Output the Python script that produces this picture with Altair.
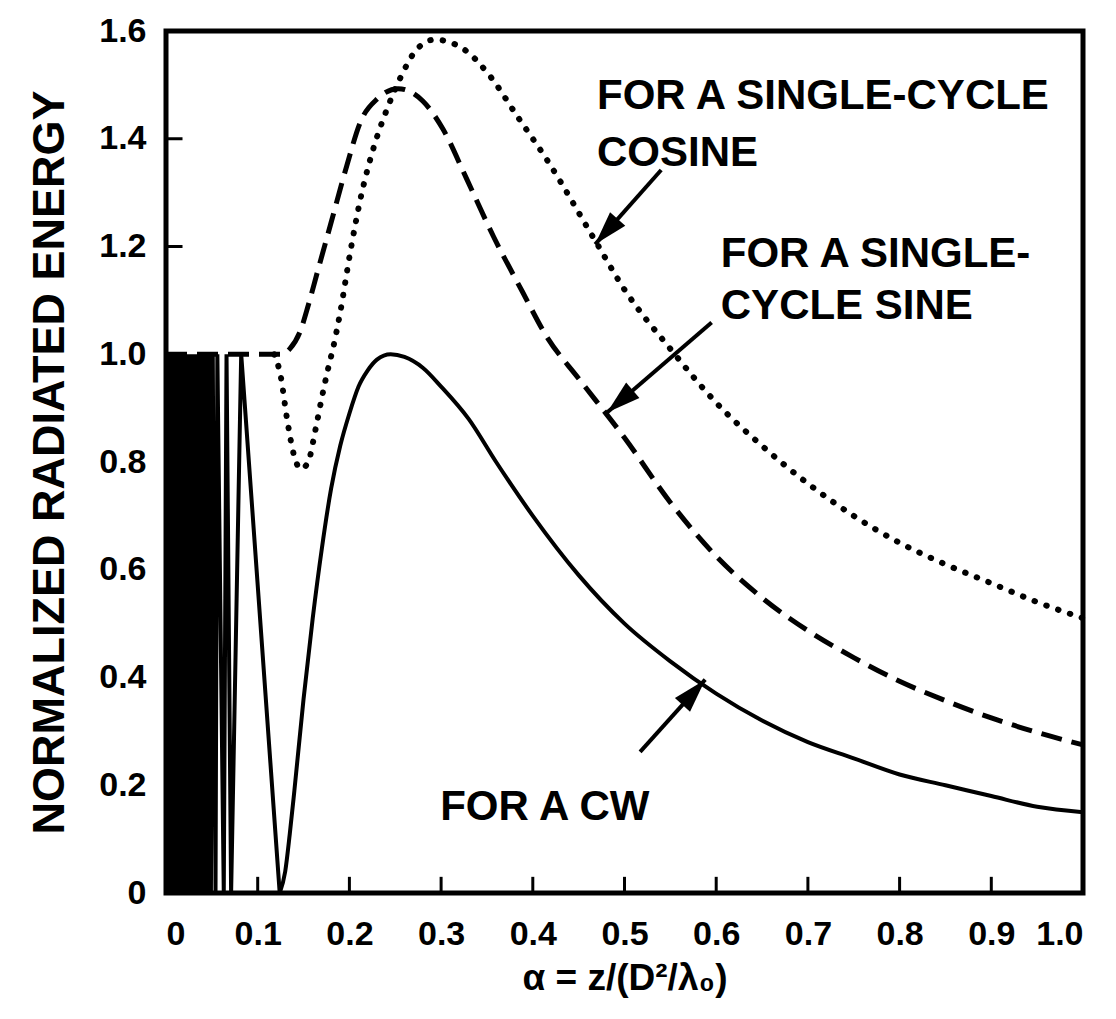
import math
import altair as alt
import pandas as pd

# ---------------- data ----------------
# CW (solid): fast oscillation region near alpha = 0
osc_x = [0.000, 0.001, 0.003, 0.004, 0.006, 0.008, 0.010, 0.011, 0.013, 0.015,
         0.016, 0.018, 0.020, 0.021, 0.023, 0.025, 0.026, 0.028, 0.030, 0.031,
         0.033, 0.035, 0.037, 0.039, 0.041, 0.043, 0.045, 0.047, 0.049, 0.051,
         0.054, 0.056, 0.063, 0.066, 0.071, 0.082, 0.124]
osc_y = [0, 1, 0, 1, 0, 1, 0, 1, 0, 1,
         0, 1, 0, 1, 0, 1, 0, 1, 0, 1,
         0, 1, 0, 1, 0, 1, 0, 1, 0, 1,
         0, 1, 0, 1, 0, 1, 0]
cw_x = [0.124, 0.130, 0.135, 0.140, 0.150, 0.160, 0.170, 0.180, 0.190, 0.200,
        0.210, 0.220, 0.230, 0.245, 0.260, 0.280, 0.300, 0.330, 0.360, 0.400,
        0.450, 0.500, 0.550, 0.600, 0.650, 0.700, 0.750, 0.800, 0.850, 0.900,
        0.950, 1.000]
cw_y = [0.00, 0.04, 0.11, 0.19, 0.36, 0.51, 0.64, 0.75, 0.83, 0.89,
        0.94, 0.97, 0.99, 1.00, 0.995, 0.975, 0.94, 0.88, 0.80, 0.70,
        0.59, 0.50, 0.43, 0.37, 0.32, 0.28, 0.25, 0.22, 0.20, 0.18,
        0.16, 0.15]

# single-cycle sine (dashed)
sine_x = [0.000, 0.127, 0.135, 0.146, 0.155, 0.165, 0.179, 0.197, 0.212, 0.231,
          0.253, 0.280, 0.302, 0.328, 0.357, 0.389, 0.415, 0.450, 0.500, 0.550,
          0.600, 0.650, 0.700, 0.750, 0.800, 0.850, 0.900, 0.950, 1.000]
sine_y = [1.000, 1.000, 1.010, 1.041, 1.090, 1.152, 1.238, 1.349, 1.431, 1.475,
          1.493, 1.470, 1.418, 1.325, 1.219, 1.115, 1.033, 0.955, 0.845, 0.725,
          0.625, 0.548, 0.487, 0.437, 0.393, 0.357, 0.325, 0.298, 0.275]

# single-cycle cosine (dotted)
cos_x = [0.118, 0.125, 0.132, 0.140, 0.147, 0.155, 0.163, 0.170, 0.177, 0.182,
         0.190, 0.201, 0.212, 0.226, 0.241, 0.255, 0.274, 0.293, 0.324, 0.353,
         0.383, 0.415, 0.469, 0.500, 0.550, 0.600, 0.650, 0.700, 0.750, 0.800,
         0.850, 0.900, 0.950, 1.000]
cos_y = [1.000, 0.960, 0.880, 0.810, 0.787, 0.800, 0.860, 0.920, 0.975, 1.010,
         1.078, 1.190, 1.288, 1.381, 1.455, 1.511, 1.567, 1.584, 1.567, 1.517,
         1.442, 1.362, 1.208, 1.120, 1.010, 0.910, 0.830, 0.760, 0.700, 0.650,
         0.610, 0.575, 0.540, 0.510]

x_ticks = [0.1, 0.2, 0.3, 0.4, 0.5, 0.6, 0.7, 0.8, 0.9]
y_ticks = [0.2, 0.4, 0.6, 0.8, 1.0, 1.2, 1.4]
x_labels = [0.0, 0.1, 0.2, 0.3, 0.4, 0.5, 0.6, 0.7, 0.8, 0.9, 1.0]
y_labels = [0.0, 0.2, 0.4, 0.6, 0.8, 1.0, 1.2, 1.4, 1.6]

# annotations (text, left x, baseline y)
ann_text = ["FOR  A  SINGLE-CYCLE", "COSINE", "FOR  A  SINGLE-", "CYCLE  SINE", "FOR  A  CW"]
ann_x = [0.470, 0.470, 0.605, 0.605, 0.299]
ann_y = [1.455, 1.350, 1.162, 1.065, 0.135]

# arrows: start -> tip
arr_x0 = [0.540, 0.595, 0.517]
arr_y0 = [1.342, 1.059, 0.262]
arr_x1 = [0.468, 0.481, 0.588]
arr_y1 = [1.204, 0.892, 0.396]

# ---------------- layout ----------------
W, H = 917, 862
FONT = "Liberation Sans"

xs = alt.Scale(domain=[0, 1], nice=False, zero=False)
ys = alt.Scale(domain=[0, 1.6], nice=False, zero=False)

lbl_expr = "datum.value == 0 ? '0' : format(datum.value, '.1f')"

x_axis = alt.Axis(values=x_labels, labelExpr=lbl_expr, labelFont=FONT, labelFontSize=34,
                  labelFontWeight="bold", labelColor="black", labelPadding=24,
                  ticks=False, domain=False, grid=False, labelOverlap=False,
                  title="α = z/(D²/λ₀)", titleFont=FONT, titleFontSize=37,
                  titleFontWeight="bold", titleColor="black", titlePadding=9)
y_axis = alt.Axis(values=y_labels, labelExpr=lbl_expr, labelFont=FONT, labelFontSize=34,
                  labelFontWeight="bold", labelColor="black", labelPadding=20,
                  ticks=False, domain=False, grid=False, labelOverlap=False,
                  title="NORMALIZED  RADIATED  ENERGY", titleFont=FONT, titleFontSize=45,
                  titleFontWeight="bold", titleColor="black", titlePadding=26)


def X(field):
    return alt.X(field, type="quantitative", scale=xs, axis=x_axis)


def Y(field):
    return alt.Y(field, type="quantitative", scale=ys, axis=y_axis)


df_osc = pd.DataFrame({"x": osc_x, "y": osc_y})
df_osc["o"] = range(len(df_osc))
df_cw = pd.DataFrame({"x": cw_x, "y": cw_y})
df_sine = pd.DataFrame({"x": sine_x, "y": sine_y})
df_cos = pd.DataFrame({"x": cos_x, "y": cos_y})

osc = alt.Chart(df_osc).mark_line(color="black", strokeWidth=4).encode(
    x=X("x"), y=Y("y"), order="o:Q"
)
cw = alt.Chart(df_cw).mark_line(color="black", strokeWidth=4, interpolate="monotone").encode(
    x=X("x"), y=Y("y")
)
sine = alt.Chart(df_sine).mark_line(color="black", strokeWidth=5, strokeDash=[21, 10],
                                    interpolate="monotone").encode(
    x=X("x"), y=Y("y")
)
cosl = alt.Chart(df_cos).mark_line(color="black", strokeWidth=6, strokeDash=[0.5, 12],
                                   strokeCap="round", interpolate="monotone").encode(
    x=X("x"), y=Y("y")
)

# inward tick marks
df_xt = pd.DataFrame({"x": x_ticks, "y0": [0.0] * len(x_ticks), "y1": [0.03] * len(x_ticks)})
xt = alt.Chart(df_xt).mark_rule(color="black", strokeWidth=3).encode(
    x=X("x"), y=Y("y0"), y2="y1:Q"
)
df_yt = pd.DataFrame({"y": y_ticks, "x0": [0.0] * len(y_ticks), "x1": [0.018] * len(y_ticks)})
yt = alt.Chart(df_yt).mark_rule(color="black", strokeWidth=3).encode(
    y=Y("y"), x=X("x0"), x2="x1:Q"
)

# annotations
df_ann = pd.DataFrame({"t": ann_text, "x": ann_x, "y": ann_y})
ann = alt.Chart(df_ann).mark_text(align="left", baseline="alphabetic", font=FONT,
                                  fontSize=42, fontWeight="bold", color="black").encode(
    x=X("x"), y=Y("y"), text="t:N"
)

# arrows
angles = []
for a0, b0, a1, b1 in zip(arr_x0, arr_y0, arr_x1, arr_y1):
    dx = (a1 - a0) * W
    dy = -(b1 - b0) * (H / 1.6)
    angles.append(math.degrees(math.atan2(dx, -dy)) % 360)
df_arr = pd.DataFrame({"x0": arr_x0, "y0": arr_y0, "x1": arr_x1, "y1": arr_y1, "ang": angles})
shaft = alt.Chart(df_arr).mark_rule(color="black", strokeWidth=4).encode(
    x=X("x0"), y=Y("y0"), x2="x1:Q", y2="y1:Q"
)
head = alt.Chart(df_arr).mark_point(
    shape="M0,0 L-0.3,1 L0.3,1 Z", filled=True, size=4600, color="black", opacity=1
).encode(
    x=X("x1"), y=Y("y1"),
    angle=alt.Angle("ang:Q", scale=None),
)

chart = alt.layer(osc, cw, sine, cosl, xt, yt, shaft, head, ann).properties(
    width=W, height=H,
    padding={"left": 166, "top": 31, "right": 33, "bottom": 126},
    autosize=alt.AutoSizeParams(type="none"),
    background="white",
).configure_view(stroke="black", strokeWidth=5)

chart.save("out.html", embed_options={"renderer": "svg", "actions": False})
